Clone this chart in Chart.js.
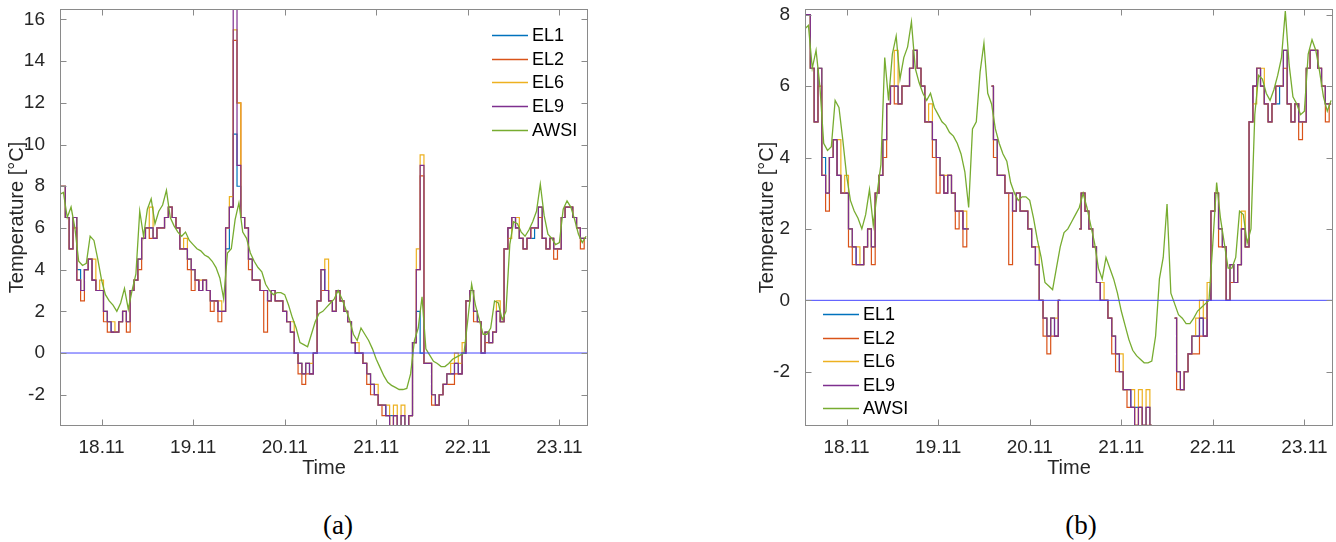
<!DOCTYPE html>
<html>
<head>
<meta charset="utf-8">
<script src="https://cdn.jsdelivr.net/npm/chart.js@4.4.1/dist/chart.umd.min.js"></script>
<style>
html,body{margin:0;padding:0;background:#fff;overflow:hidden;width:1336px;height:542px;}
.box{position:absolute;top:0;height:480px;}
.cap{position:absolute;font-family:"Liberation Serif","Times New Roman",serif;font-size:27px;color:#000;transform:translate(-50%,-50%);white-space:nowrap;line-height:1;}
</style>
</head>
<body>
<div class="box" style="left:0;width:600px"><canvas id="ca"></canvas></div>
<div class="box" style="left:745px;width:591px"><canvas id="cb"></canvas></div>
<div class="cap" style="left:338px;top:525px">(a)</div>
<div class="cap" style="left:1081px;top:525px">(b)</div>
<script>
// ---- time axis: hourly samples, hours counted from 17.11 00:00 ----
const START_HOUR = 13;           // 17.11 13:00
const X_MIN = 13.1, X_MAX = 151.5;
const TICK_HOURS  = [24, 48, 72, 96, 120, 144];
const TICK_LABELS = ['18.11', '19.11', '20.11', '21.11', '22.11', '23.11'];
const YTICKS_A = [-2, 0, 2, 4, 6, 8, 10, 12, 14, 16];
const YTICKS_B = [-2, 0, 2, 4, 6, 8];
const SERIES_NAMES = ['EL1', 'EL2', 'EL6', 'EL9', 'AWSI'];

// ---- values (°C), one per hour from 17.11 13:00 ----
const AWSI = [
  7.6, 7.7, 6.5, 7.0, 6.0, 4.4, 4.2, 4.3, 5.6, 5.4,
  4.5, 3.5, 2.8, 2.5, 2.3, 2.0, 2.4, 3.1, 2.1, 3.0,
  3.8, 6.8, 5.6, 6.9, 7.4, 6.2, 6.8, 7.1, 7.8, 6.5,
  6.1, 5.8, 5.6, 5.8, 5.4, 5.2, 5.0, 4.9, 4.7, 4.6,
  4.4, 4.1, 3.6, 2.6, 4.8, 5.0, 6.4, 7.2, 5.8, 5.5,
  4.8, 4.4, 4.1, 3.9, 3.3, 3.0, 2.8, 2.9, 2.9, 2.8,
  2.3, 1.7, 1.2, 0.5, 0.4, 0.3, 0.9, 1.5, 1.9, 2.0,
  2.2, 2.4, 2.6, 3.0, 2.6, 2.1, 1.6, 0.9, 0.6, 1.2,
  0.9, 0.6, 0.2, -0.3, -0.7, -1.1, -1.4, -1.55, -1.65, -1.75,
  -1.75, -1.7, -1.0, 0.6, 1.2, 2.7, 0.2, -0.1, -0.4, -0.5,
  -0.65, -0.65, -0.5, -0.3, -0.2, -0.1, 0.0, 1.6, 3.3, 2.3,
  1.6, 0.9, 0.9, 1.2, 2.5, 2.4, 1.6, 2.0, 5.2, 6.3,
  6.2, 5.8, 5.6, 5.9, 6.3, 6.8, 8.1, 6.6, 5.7, 5.5,
  5.2, 5.3, 6.9, 7.3, 7.0, 6.4, 5.7, 5.3, 5.6
];
const EL1 = [
  8.0, 8.0, 6.5, 5.0, 6.5, 4.0, 3.0, 4.0, 4.5, 3.5,
  3.0, 3.0, 2.0, 1.5, 1.0, 1.0, 1.5, 2.0, 1.5, 3.0,
  3.5, 4.5, 5.5, 6.0, 6.0, 5.5, 6.0, 6.0, 6.5, 7.0,
  6.5, 6.0, 5.0, 5.0, 4.5, 4.0, 3.5, 3.0, 3.5, 3.0,
  2.5, 2.5, 2.0, 2.0, 5.0, 7.0, 10.5, 8.0, 6.5, 6.0,
  4.5, 3.5, 3.5, 3.0, 3.0, 2.5, 3.0, 2.5, 2.5, 2.0,
  1.5, 1.0, 0.0, -0.5, -1.0, -0.5, -1.0, 0.0, 2.5, 4.0,
  3.0, 2.5, 2.0, 3.0, 2.5, 2.0, 1.5, 0.5, 0.0, 0.0,
  -0.5, -1.0, -1.5, -2.0, -2.5, -2.5, -3.0, -3.0, -3.0, -3.5,
  -3.0, -3.5, -3.0, 0.5, 2.0, 0.0, -0.5, -0.5, -2.0, -2.5,
  -2.0, -1.5, -1.0, -1.0, -0.5, -1.0, 0.0, 2.5, 3.0, 2.0,
  1.5, 0.0, 1.0, 0.5, 1.0, 2.0, 1.5, 5.0, 6.0, 6.5,
  6.0, 5.5, 5.0, 5.5, 5.5, 6.0, 7.0, 5.5, 5.0, 5.5,
  5.0, 5.0, 6.5, 7.0, 7.0, 6.5, 6.0, 5.5, 5.5
];
const EL2 = [
  8.0, 8.0, 6.5, 5.0, 6.0, 3.5, 2.5, 4.0, 4.5, 3.5,
  3.0, 3.0, 1.5, 1.0, 1.0, 1.0, 1.5, 2.0, 1.0, 3.0,
  3.5, 4.0, 5.5, 6.0, 5.5, 5.5, 6.0, 6.0, 6.5, 7.0,
  6.5, 6.0, 5.0, 5.0, 4.0, 3.0, 3.5, 3.0, 3.5, 3.0,
  2.0, 2.5, 1.5, 2.0, 6.0, 7.0, 15.0, 12.0, 6.5, 6.0,
  4.0, 3.5, 3.5, 3.0, 1.0, 2.5, 3.0, 2.5, 2.5, 2.0,
  1.5, 1.0, 0.0, -1.0, -1.5, -1.0, -1.0, 0.0, 2.5, 3.0,
  3.0, 2.5, 2.0, 3.0, 2.5, 2.0, 1.5, 0.5, 0.0, 0.0,
  -0.5, -1.5, -2.0, -2.0, -2.5, -3.0, -3.0, -3.5, -3.0, -3.5,
  -3.5, -3.5, -3.0, 0.5, 4.0, 8.5, -0.5, -0.5, -2.5, -2.5,
  -2.0, -1.5, -1.5, -1.5, -1.0, -1.0, 0.0, 2.5, 3.0, 1.5,
  1.5, 0.0, 0.5, 0.5, 1.0, 2.0, 1.5, 5.0, 6.0, 6.5,
  6.0, 5.5, 5.0, 5.5, 6.0, 6.0, 6.5, 5.5, 5.0, 5.5,
  4.5, 5.0, 6.5, 7.0, 7.0, 6.5, 6.0, 5.0, 5.5
];
const EL6 = [
  8.0, 8.0, 6.5, 5.0, 6.5, 3.5, 3.0, 4.0, 4.5, 4.5,
  3.0, 3.5, 2.0, 1.5, 1.5, 1.0, 1.5, 2.0, 1.5, 3.0,
  3.5, 4.5, 5.5, 6.0, 7.0, 5.5, 6.0, 6.0, 6.5, 7.0,
  6.5, 6.0, 5.0, 5.5, 4.5, 4.0, 3.5, 3.5, 3.5, 3.0,
  2.5, 2.5, 2.5, 2.0, 6.0, 7.5, 15.5, 12.0, 6.5, 6.0,
  4.5, 3.5, 3.5, 3.0, 3.0, 2.5, 3.0, 2.5, 2.5, 2.0,
  1.5, 1.5, 0.0, -0.5, -1.0, -0.5, -0.5, 0.0, 2.5, 4.0,
  4.5, 2.5, 2.0, 3.0, 2.5, 2.0, 1.5, 0.5, 0.5, 0.0,
  -0.5, -1.0, -1.5, -1.5, -2.5, -2.5, -2.5, -3.5, -2.5, -3.5,
  -2.5, -3.5, -3.0, 0.5, 5.0, 9.5, -0.5, -0.5, -2.0, -2.5,
  -2.0, -1.5, -1.0, -0.5, 0.0, -0.5, 0.5, 2.5, 3.0, 2.0,
  1.5, 0.0, 1.0, 0.5, 1.0, 2.5, 1.5, 5.0, 5.5, 6.5,
  6.5, 5.5, 5.0, 5.5, 6.0, 6.0, 7.0, 5.5, 5.0, 5.5,
  5.0, 5.0, 6.5, 7.0, 7.0, 6.5, 6.0, 5.5, 5.5
];
const EL9 = [
  8.0, 8.0, 6.5, 5.0, 6.5, 3.5, 3.0, 4.0, 4.5, 3.5,
  3.0, 3.0, 2.0, 1.5, 1.0, 1.0, 1.5, 2.0, 1.5, 3.0,
  3.5, 4.5, 5.5, 6.0, 6.0, 5.5, 6.0, 6.0, 6.5, 7.0,
  6.5, 6.0, 5.0, 5.0, 4.5, 4.0, 3.5, 3.0, 3.5, 3.0,
  2.5, 2.5, 2.0, 2.0, 6.0, 7.0, 16.5, 9.0, 6.5, 6.0,
  4.5, 3.5, 3.5, 3.0, 3.0, 2.5, 3.0, 2.5, 2.5, 2.0,
  1.5, 1.0, 0.0, -0.5, -1.0, -0.5, -1.0, 0.0, 2.5, 4.0,
  3.0, 2.5, 2.0, 3.0, 2.5, 2.0, 1.5, 0.5, 0.0, 0.0,
  -0.5, -1.0, -1.5, -2.0, -2.5, -2.5, -3.0, -3.5, -3.0, -3.5,
  -3.0, -3.5, -3.0, 0.5, 4.0, 9.0, -0.5, -0.5, -2.0, -2.5,
  -2.0, -1.5, -1.0, -1.0, -0.5, -1.0, 0.0, 2.5, 3.0, 2.0,
  1.5, 0.0, 1.0, 0.5, 1.0, 2.0, 1.5, 5.0, 6.0, 6.5,
  6.0, 5.5, 5.0, 5.5, 6.0, 6.0, 7.0, 5.5, 5.0, 5.5,
  5.0, 5.0, 6.5, 7.0, 7.0, 6.5, 6.0, 5.5, 5.5
];
// panel (b): electrode readings removed during these hour windows (solar peaks)
const REMOVED_B = [[57, 61], [81, 84], [105, 109]];

const COLORS = {EL1:'#0072BD', EL2:'#D95319', EL6:'#EDB120', EL9:'#7E2F8E', AWSI:'#77AC30'};
const FONT = '"Liberation Sans", Arial, Helvetica, sans-serif';
Chart.defaults.font.family = FONT;

function toPoints(vals, removed) {
  return vals.map((v, i) => {
    const h = START_HOUR + i;
    const cut = removed ? removed.some(([a, b]) => h >= a && h <= b) : false;
    return {x: h, y: cut ? null : v};
  });
}

const framePlugin = {
  id: 'frame',
  afterDraw(chart, args, opts) {
    const ctx = chart.ctx, a = chart.chartArea;
    const xs = chart.scales.x, ys = chart.scales.y;
    ctx.save();
    ctx.strokeStyle = '#8a8a8a';
    ctx.lineWidth = 1;
    const L = a.left + 0.5, R = a.right - 0.5, T = a.top + 0.5, B = a.bottom - 0.5;
    ctx.strokeRect(L, T, R - L, B - T);
    ctx.beginPath();
    TICK_HOURS.forEach(h => {
      const px = Math.round(xs.getPixelForValue(h)) + 0.5;
      ctx.moveTo(px, B); ctx.lineTo(px, B - 6);
      ctx.moveTo(px, T); ctx.lineTo(px, T + 6);
    });
    ys.ticks.forEach(t => {
      const py = Math.round(ys.getPixelForValue(t.value)) + 0.5;
      ctx.moveTo(L, py); ctx.lineTo(L + 6, py);
      ctx.moveTo(R, py); ctx.lineTo(R - 6, py);
    });
    ctx.stroke();
    // legend drawn inside the axes
    const lg = opts.legend;
    ctx.font = '18px ' + FONT;
    ctx.textBaseline = 'middle';
    ctx.textAlign = 'left';
    SERIES_NAMES.forEach((name, i) => {
      const y = Math.round(lg.y0 + i * lg.dy) + 0.5;
      ctx.strokeStyle = COLORS[name];
      ctx.lineWidth = 1.4;
      ctx.beginPath();
      ctx.moveTo(lg.x0, y); ctx.lineTo(lg.x0 + 36, y);
      ctx.stroke();
      ctx.fillStyle = '#000';
      ctx.fillText(name, lg.x0 + 40, y + 1);
    });
    ctx.restore();
  }
};

function noPad(s) { s.paddingTop = 0; s.paddingBottom = 0; s.paddingLeft = 0; s.paddingRight = 0; }

function makeChart(id, removed, ymin, ymax, yticks, padRight, titlePad, legend) {
  const ds = [];
  const series = {EL1, EL2, EL6, EL9};
  const order = {EL1: 5, EL2: 4, EL6: 3, EL9: 2};
  ['EL1', 'EL2', 'EL6', 'EL9'].forEach(n => ds.push({
    label: n, data: toPoints(series[n], removed), borderColor: COLORS[n],
    borderWidth: 1.2, stepped: 'middle', pointRadius: 0, spanGaps: false, order: order[n]
  }));
  ds.push({label: 'AWSI', data: toPoints(AWSI, null), borderColor: COLORS.AWSI,
    borderWidth: 1.3, pointRadius: 0, tension: 0, order: 1});
  ds.push({label: 'zero', data: [{x: X_MIN, y: 0}, {x: X_MAX, y: 0}], borderColor: '#4646ff',
    borderWidth: 1, pointRadius: 0, order: 0});
  return new Chart(document.getElementById(id), {
    type: 'line',
    data: {datasets: ds},
    plugins: [framePlugin],
    options: {
      animation: false, responsive: true, maintainAspectRatio: false, devicePixelRatio: 1,
      layout: {padding: {top: 9, right: padRight, left: 0, bottom: 0}, autoPadding: false},
      plugins: {legend: {display: false}, tooltip: {enabled: false}, frame: {legend}},
      scales: {
        x: {
          type: 'linear', min: X_MIN, max: X_MAX,
          afterBuildTicks: s => { s.ticks = TICK_HOURS.map(v => ({value: v})); },
          ticks: {callback: v => TICK_LABELS[TICK_HOURS.indexOf(v)] ?? '', font: {size: 19},
                  color: '#262626', padding: 2, maxRotation: 0, autoSkip: false},
          grid: {display: false}, border: {display: false},
          title: {display: true, text: 'Time', font: {size: 20}, color: '#262626', padding: {top: 0, bottom: 0}},
          afterFit: s => { s.height = 54; noPad(s); }
        },
        y: {
          min: ymin, max: ymax,
          afterBuildTicks: s => { s.ticks = yticks.map(v => ({value: v})); },
          ticks: {font: {size: 19}, color: '#262626', padding: 7},
          grid: {display: false}, border: {display: false},
          title: {display: true, text: 'Temperature [°C]', font: {size: 20}, color: '#262626',
                  padding: {top: titlePad, bottom: 0}},
          afterFit: s => { s.width = 60; noPad(s); }
        }
      }
    }
  });
}

makeChart('ca', null, -3.5, 16.5, YTICKS_A, 12, 5, {x0: 492, y0: 35, dy: 23.7});
makeChart('cb', REMOVED_B, -3.52, 8.16, YTICKS_B, 3, 10, {x0: 78, y0: 314, dy: 23.6});
</script>
</body>
</html>
